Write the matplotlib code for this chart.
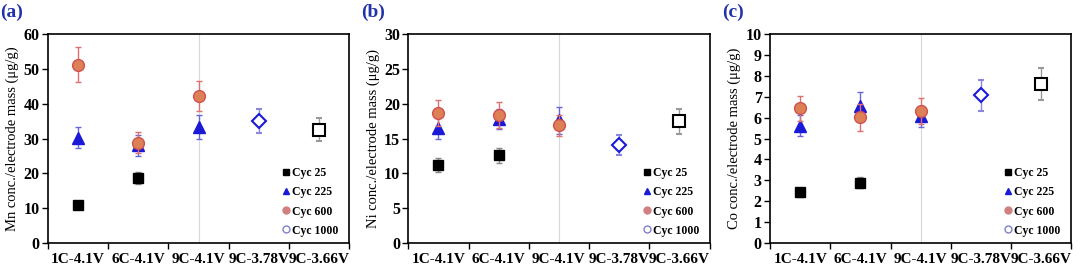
import numpy as np
import matplotlib
matplotlib.use("Agg")
import matplotlib.pyplot as plt
from matplotlib.lines import Line2D

plt.rcParams['font.family'] = ['Liberation Serif', 'DejaVu Serif']

# categories on the x axis
conditions = ['1C-4.1V', '6C-4.1V', '9C-4.1V', '9C-3.78V', '9C-3.66V']

# Mn (panel a) - value and error bar, None where there is no point
mn_cyc25 = [11.0, 18.7, None, None, None]
mn_cyc25_err = [0.8, 1.8, None, None, None]
mn_cyc225 = [30.3, 28.1, 33.4, None, None]
mn_cyc225_err = [3.0, 3.0, 3.5, None, None]
mn_cyc600 = [51.2, 28.8, 42.2, None, None]
mn_cyc600_err = [5.1, 3.0, 4.3, None, None]
mn_cyc1000 = [None, None, None, 35.0, None]
mn_cyc1000_err = [None, None, None, 3.5, None]
mn_last = [None, None, None, None, 32.5]
mn_last_err = [None, None, None, None, 3.3]

# Ni (panel b)
ni_cyc25 = [11.2, 12.6, None, None, None]
ni_cyc25_err = [1.0, 1.1, None, None, None]
ni_cyc225 = [16.5, 17.8, 17.6, None, None]
ni_cyc225_err = [1.5, 1.5, 2.0, None, None]
ni_cyc600 = [18.7, 18.4, 16.9, None, None]
ni_cyc600_err = [1.9, 1.9, 1.5, None, None]
ni_cyc1000 = [None, None, None, 14.1, None]
ni_cyc1000_err = [None, None, None, 1.45, None]
ni_last = [None, None, None, None, 17.5]
ni_last_err = [None, None, None, None, 1.8]

# Co (panel c)
co_cyc25 = [2.42, 2.89, None, None, None]
co_cyc25_err = [0.22, 0.25, None, None, None]
co_cyc225 = [5.61, 6.55, 6.06, None, None]
co_cyc225_err = [0.5, 0.7, 0.5, None, None]
co_cyc600 = [6.45, 6.02, 6.32, None, None]
co_cyc600_err = [0.6, 0.65, 0.6, None, None]
co_cyc1000 = [None, None, None, 7.06, None]
co_cyc1000_err = [None, None, None, 0.72, None]
co_last = [None, None, None, None, 7.6]
co_last_err = [None, None, None, None, 0.77]

panels = [
    ('(a)', 'Mn conc./electrode mass (μg/g)', 60, 10,
     mn_cyc25, mn_cyc25_err, mn_cyc225, mn_cyc225_err, mn_cyc600, mn_cyc600_err,
     mn_cyc1000, mn_cyc1000_err, mn_last, mn_last_err),
    ('(b)', 'Ni conc./electrode mass (μg/g)', 30, 5,
     ni_cyc25, ni_cyc25_err, ni_cyc225, ni_cyc225_err, ni_cyc600, ni_cyc600_err,
     ni_cyc1000, ni_cyc1000_err, ni_last, ni_last_err),
    ('(c)', 'Co conc./electrode mass (μg/g)', 10, 1,
     co_cyc25, co_cyc25_err, co_cyc225, co_cyc225_err, co_cyc600, co_cyc600_err,
     co_cyc1000, co_cyc1000_err, co_last, co_last_err),
]

blue = '#1a1ad6'
orange = '#dd8055'
red_err = '#e07070'


def pts(vals, errs):
    x = [i + 0.5 for i, v in enumerate(vals) if v is not None]
    y = [v for v in vals if v is not None]
    e = [errs[i] for i, v in enumerate(vals) if v is not None]
    return x, y, e


fig = plt.figure(figsize=(10.8, 2.68), dpi=100)
lefts = [0.0444, 0.378, 0.713]

for k, p in enumerate(panels):
    (tag, ylabel, ymax, ystep, c25, e25, c225, e225, c600, e600,
     c1000, e1000, clast, elast) = p
    ax = fig.add_axes([lefts[k], 0.093, 0.279, 0.78])

    ax.axvline(2.5, color='#d8d8d8', lw=0.8, zorder=0)

    x, y, e = pts(c25, e25)
    ax.errorbar(x, y, yerr=e, fmt='s', color='black', ms=6.5, ecolor='#888888',
                elinewidth=1, capsize=2, zorder=3)
    x, y, e = pts(c225, e225)
    ax.errorbar(x, y, yerr=e, fmt='^', color=blue, ms=8.5, ecolor='#6666dd',
                elinewidth=1, capsize=2, zorder=3)
    x, y, e = pts(c600, e600)
    ax.errorbar(x, y, yerr=e, fmt='o', mfc=orange, mec='#d05050', ms=8.5,
                ecolor=red_err, elinewidth=1, capsize=2, zorder=4)
    x, y, e = pts(c1000, e1000)
    ax.errorbar(x, y, yerr=e, fmt='D', mfc='white', mec=blue, mew=1.5, ms=7,
                ecolor='#8888dd', elinewidth=1, capsize=2, zorder=3)
    x, y, e = pts(clast, elast)
    ax.errorbar(x, y, yerr=e, fmt='s', mfc='white', mec='black', mew=1.5, ms=8.5,
                ecolor='#999999', elinewidth=1, capsize=2, zorder=3)

    ax.set_xlim(0, 5)
    ax.set_ylim(0, ymax)
    ax.set_yticks(np.arange(0, ymax + ystep / 2, ystep))
    ax.set_xticks([i + 0.5 for i in range(len(conditions))])
    ax.set_xticklabels(conditions)
    ax.set_xticks(range(6), minor=True)
    ax.tick_params(axis='x', which='major', length=0, pad=7)
    ax.tick_params(axis='x', which='minor', length=4, direction='out', width=1)
    ax.tick_params(axis='y', length=4, direction='out', width=1, pad=2)
    for lab in ax.get_xticklabels():
        lab.set_fontweight('bold')
        lab.set_fontsize(11)
    for lab in ax.get_yticklabels():
        lab.set_fontweight('bold')
        lab.set_fontsize(11.5)
    for s in ax.spines.values():
        s.set_linewidth(1.2)
    ax.set_ylabel(ylabel, fontsize=10.5, labelpad=3)

    handles = [
        Line2D([], [], ls='', marker='s', color='black', ms=5),
        Line2D([], [], ls='', marker='^', color=blue, ms=5),
        Line2D([], [], ls='', marker='o', mfc='#d08080', mec='#d08080', ms=5),
        Line2D([], [], ls='', marker='o', mfc='white', mec='#8080cc', ms=5),
    ]
    leg = ax.legend(handles, ['Cyc 25', 'Cyc 225', 'Cyc 600', 'Cyc 1000'],
                    loc='lower right', frameon=False, handlelength=0.6,
                    handletextpad=0.2, labelspacing=0.6,
                    prop={'weight': 'bold', 'size': 8.5},
                    bbox_to_anchor=(1.0, -0.02))

    fig.text(lefts[k] - 0.044, 0.985, tag, fontsize=14, fontweight='bold',
             color='#2233aa', va='top', ha='left')

fig.savefig('out.png', dpi=100)
